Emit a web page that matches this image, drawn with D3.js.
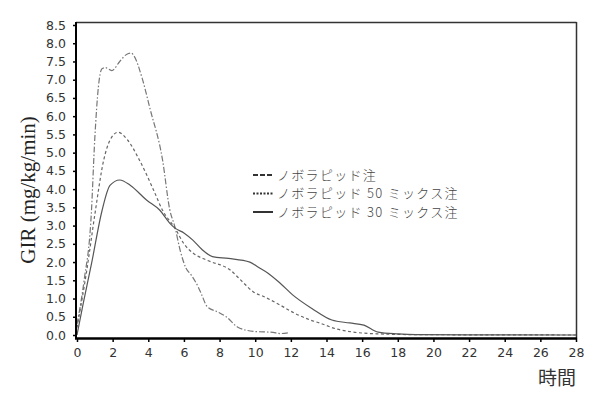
<!DOCTYPE html>
<html><head><meta charset="utf-8">
<script src="https://cdn.jsdelivr.net/npm/d3@7"></script>
<style>
body{margin:0;background:#fff;}
svg{display:block;}
</style></head>
<body>
<svg id="c" width="600" height="400"></svg>
<script>
// Data (time in hours, GIR mg/kg/min)
const seriesNames = ["ノボラピッド注", "ノボラピッド 50 ミックス注", "ノボラピッド 30 ミックス注"];
const novoRapid = [[0,0.3],[0.4,1.5],[0.8,3.3],[1.0,5.4],[1.2,6.8],[1.4,7.3],[1.6,7.33],[1.95,7.25],[2.4,7.5],[2.8,7.7],[3.05,7.73],[3.2,7.65],[3.65,7.05],[4.1,6.2],[4.8,4.8],[5.2,3.45],[5.5,2.95],[5.8,2.3],[6.1,1.85],[6.4,1.65],[6.8,1.32],[7.0,1.1],[7.3,0.78],[7.9,0.63],[8.4,0.49],[9.0,0.22],[9.9,0.1],[11.0,0.07],[11.4,0.04],[11.85,0.06]];
const mix50 = [[0,0.2],[0.55,1.78],[1.0,3.3],[1.5,4.8],[1.85,5.34],[2.3,5.56],[2.85,5.34],[3.5,4.8],[4.3,3.97],[4.8,3.42],[5.5,2.93],[6.0,2.5],[6.5,2.25],[7.3,2.05],[8.6,1.78],[9.3,1.45],[9.9,1.18],[10.5,1.05],[11.4,0.82],[12.2,0.6],[13.1,0.41],[13.6,0.33],[14.6,0.16],[15.5,0.08],[16.1,0.05],[17,0.03],[19,0.01],[28,0]];
const mix30 = [[0,0],[0.35,0.87],[0.82,1.97],[1.4,3.4],[1.85,4.1],[2.4,4.25],[3.0,4.1],[3.9,3.7],[4.65,3.42],[5.2,3.07],[5.5,2.93],[6.0,2.8],[6.5,2.6],[7.0,2.35],[7.6,2.15],[8.5,2.1],[9.7,2.0],[10.2,1.85],[10.7,1.7],[11.4,1.42],[12.1,1.1],[13.2,0.72],[14.3,0.41],[15.3,0.33],[16.1,0.27],[16.9,0.08],[18,0.03],[19,0.01],[28,0]];
const xTicks = [0,2,4,6,8,10,12,14,16,18,20,22,24,26,28];
const yTicks = [0,0.5,1,1.5,2,2.5,3,3.5,4,4.5,5,5.5,6,6.5,7,7.5,8,8.5];
const xTitle = "時間";
const yTitle = "GIR (mg/kg/min)";

const svg = d3.select("#c");
const x = d3.scaleLinear().domain([0,28]).range([77,576]);
const y = d3.scaleLinear().domain([0,8.5]).range([335,25]);

const styles = [
  {data: novoRapid, color:"#777", dash:"6,2,1.5,2", w:1.2},
  {data: mix50, color:"#666", dash:"3,2.5", w:1.2},
  {data: mix30, color:"#555", dash:null, w:1.2}
];

// frame top & right
svg.append("line").attr("x1",76).attr("x2",576.5).attr("y1",22.5).attr("y2",22.5).attr("stroke","#333").attr("stroke-width",1.5);
svg.append("line").attr("x1",576.5).attr("x2",576.5).attr("y1",22).attr("y2",338).attr("stroke","#333").attr("stroke-width",1.5);

const line = d3.line().x(d=>x(d[0])).y(d=>y(d[1])).curve(d3.curveMonotoneX);
styles.forEach(s=>{
  svg.append("path").attr("d", line(s.data)).attr("fill","none")
    .attr("stroke", s.color).attr("stroke-width", s.w)
    .attr("stroke-dasharray", s.dash);
});

// y axis
const yAxis = d3.axisLeft(y).tickValues(yTicks).tickFormat(d3.format(".1f")).tickSize(3).tickSizeOuter(0);
const gy = svg.append("g").attr("transform","translate(76,0)").call(yAxis);
gy.select(".domain").remove();
svg.append("line").attr("x1",76).attr("x2",76).attr("y1",22).attr("y2",339).attr("stroke","#000").attr("stroke-width",2);
gy.selectAll(".tick line").attr("stroke","#000").attr("stroke-width",1.5);
gy.selectAll(".tick text").attr("x",-10).attr("font-family","DejaVu Sans, Verdana, sans-serif").attr("font-size",12.5).attr("fill","#333");

// x axis
const xAxis = d3.axisBottom(x).tickValues(xTicks).tickFormat(d3.format("d")).tickSize(4).tickSizeOuter(0);
const gx = svg.append("g").attr("transform","translate(0,338)").call(xAxis);
gx.select(".domain").remove();
svg.append("line").attr("x1",75).attr("x2",577).attr("y1",338.5).attr("y2",338.5).attr("stroke","#000").attr("stroke-width",2.5);
gx.selectAll(".tick line").attr("stroke","#000").attr("stroke-width",1.5);
gx.selectAll(".tick text").attr("y",10).attr("font-family","DejaVu Sans, Verdana, sans-serif").attr("font-size",12.5).attr("fill","#333");

// titles
svg.append("text").attr("transform","translate(35,190) rotate(-90)").attr("text-anchor","middle")
  .attr("font-family","Liberation Serif, Times New Roman, serif").attr("font-size",21).attr("fill","#222").text(yTitle);
svg.append("text").attr("x",576).attr("y",385).attr("text-anchor","end")
  .attr("font-family","Noto Sans CJK JP, sans-serif").attr("font-size",19).attr("fill","#333").text(xTitle);

// legend
const legDash = ["5,2", "2,1.5", null];
const lg = svg.append("g");
seriesNames.forEach((n,i)=>{
  const yy = 175 + i*18.5;
  lg.append("line").attr("x1",253).attr("x2",273).attr("y1",yy).attr("y2",yy)
    .attr("stroke","#333").attr("stroke-width",2).attr("stroke-dasharray", legDash[i]);
  lg.append("text").attr("x",277).attr("y",yy+4.5).attr("font-family","Noto Sans CJK JP, sans-serif")
    .attr("font-size",13).attr("letter-spacing",1.3).attr("font-weight",300).attr("fill","#444").text(n);
});
</script>
</body></html>
